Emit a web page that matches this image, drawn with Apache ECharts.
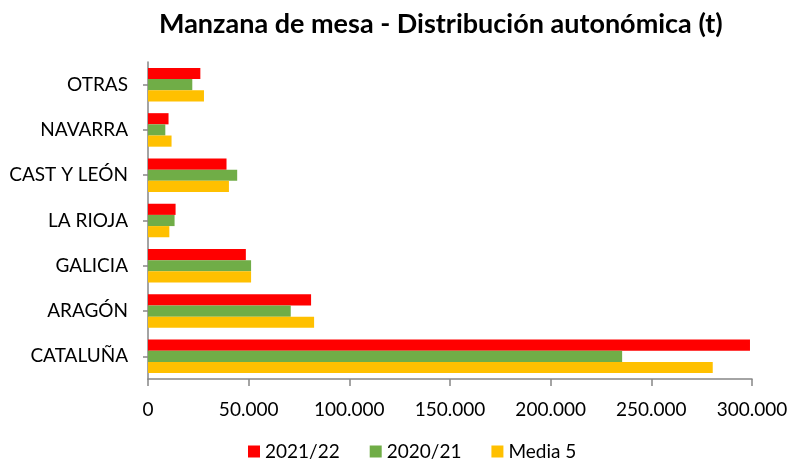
<!DOCTYPE html>
<html><head><meta charset="utf-8">
<script src="https://cdn.jsdelivr.net/npm/echarts@6/dist/echarts.min.js"></script>
<style>html,body{margin:0;padding:0;background:#fff}#c{width:794px;height:459px}</style>
</head><body><div id="c"></div>
<script>
const categories = ['CATALUÑA','ARAGÓN','GALICIA','LA RIOJA','CAST Y LEÓN','NAVARRA','OTRAS'];
const s2122 = [299000, 81000, 48600, 13700, 39000, 10200, 26000];
const s2021 = [235500, 70900, 51200, 13200, 44300, 8600, 22000];
const media5 = [280500, 82500, 51200, 10600, 40200, 11700, 27800];
const xTicks = [0, 50000, 100000, 150000, 200000, 250000, 300000];
const FONT = 'Lato';
const fmt = v => v === 0 ? '0' : v.toLocaleString('de-DE');
const chart = echarts.init(document.getElementById('c'));
chart.setOption({
  animation: false,
  title: { text: 'Manzana de mesa - Distribución autonómica (t)', left: 154, top: 6,
    textStyle: { fontFamily: FONT, fontWeight: 'bold', fontSize: 27, color: '#000' } },
  legend: { data: ['2021/22','2020/21','Media 5'], top: 437, left: 243, itemWidth: 12, itemHeight: 12, itemGap: 30,
    icon: 'rect', textStyle: { fontFamily: FONT, fontSize: 19, color: '#000' } },
  grid: { left: 148, right: 42, top: 62, bottom: 80, containLabel: false },
  xAxis: { type: 'value', min: xTicks[0], max: xTicks[xTicks.length-1], interval: 50000,
    axisLine: { show: true, lineStyle: { color: '#868686', width: 1.5 } },
    axisTick: { show: true, length: 7, lineStyle: { color: '#868686', width: 1.5 } },
    splitLine: { show: false },
    axisLabel: { formatter: fmt, fontFamily: FONT, fontSize: 19, color: '#000', margin: 21 } },
  yAxis: [{ type: 'category', data: categories,
    axisLine: { show: true, lineStyle: { color: '#868686', width: 1.5 } },
    axisTick: { show: true, alignWithLabel: true, length: 5, lineStyle: { color: '#868686', width: 1.5 } },
    axisLabel: { fontFamily: FONT, fontSize: 19, color: '#000', margin: 20 } },
   { type: 'category', data: categories, position: 'left',
    axisLine: { show: false }, axisLabel: { show: false },
    axisTick: { show: true, inside: true, alignWithLabel: true, length: 5, lineStyle: { color: '#868686', width: 1.5 } } }],
  series: [
    { name: '2021/22', type: 'bar', data: s2122, itemStyle: { color: '#FF0000' }, barGap: '0%', barCategoryGap: '26%' },
    { name: '2020/21', type: 'bar', data: s2021, itemStyle: { color: '#70AD47' }, barGap: '0%', barCategoryGap: '26%' },
    { name: 'Media 5', type: 'bar', data: media5, itemStyle: { color: '#FFC000' }, barGap: '0%', barCategoryGap: '26%' }
  ]
});
</script></body></html>
